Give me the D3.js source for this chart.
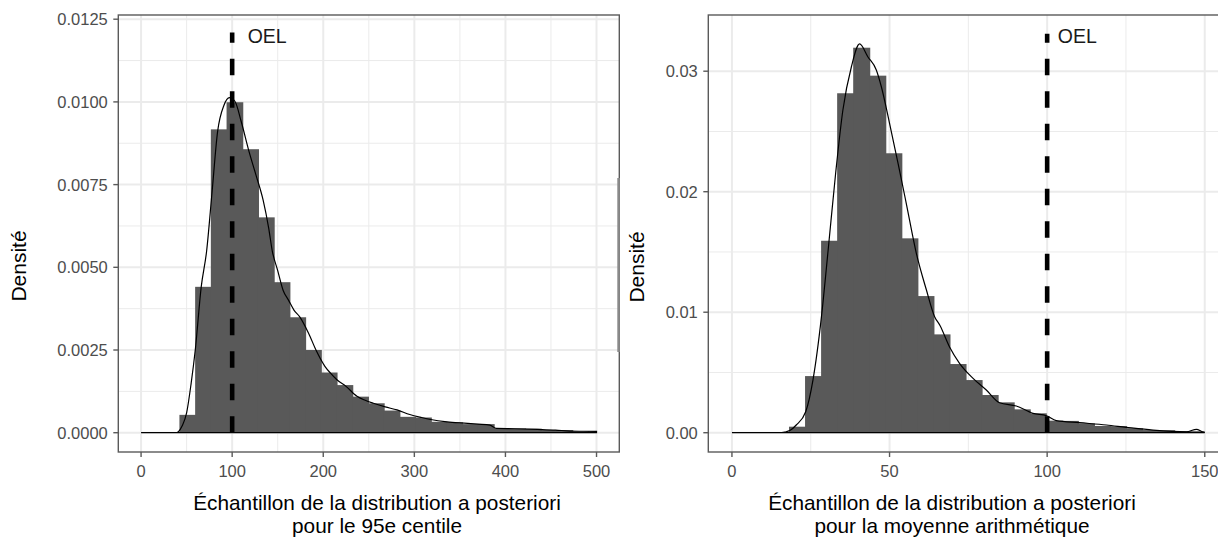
<!DOCTYPE html>
<html>
<head>
<meta charset="utf-8">
<script src="https://cdn.jsdelivr.net/npm/d3@7"></script>
<style>
    body { margin: 0; background: #fff; }
    svg { display: block; font-family: 'Liberation Sans', Arial, sans-serif; }
</style>
</head>
<body>
<svg id="chart" width="1218" height="537"></svg>
<script>
// histogram breaks + bar densities
var p95BinStart = 42.1;
var p95BinWidth = 17.25;
var p95Bars = [0.00054, 0.00441, 0.00917, 0.00999, 0.00857, 0.00651, 0.00455, 0.00349, 0.0025,
    0.00182, 0.00144, 0.00109, 0.00089, 0.00067, 0.00048, 0.00046, 0.00033, 0.00032, 0.00026,
    0.00026, 0.00013, 0.00013, 0.00012, 0.00008, 0.00008, 0.00004, 0.00004];

var meanBinStart = 18.1;
var meanBinWidth = 5.092;
var meanBars = [0.0005, 0.0047, 0.01593, 0.02817, 0.03195, 0.02963, 0.02319, 0.01613, 0.01134,
    0.00816, 0.0057, 0.00437, 0.00313, 0.00252, 0.00194, 0.00161, 0.0010, 0.00098, 0.00078,
    0.00056, 0.00055, 0.00037, 0.00022, 0.00021, 0.00014, 0.00013];

// density curves [x, y]
var p95Density = [[0, 0], [38, 0], [41, 0.00003], [45, 0.0002], [50, 0.0006], [55, 0.0015],
    [59.5, 0.0025], [66, 0.0044], [72, 0.0055], [78, 0.0073], [84, 0.0091], [91, 0.0099],
    [97, 0.01013], [103, 0.01002], [110, 0.0094], [118, 0.00855], [126, 0.0078], [134, 0.00703],
    [140, 0.0062], [144, 0.0055], [150, 0.0049], [156, 0.0043], [162, 0.004], [168, 0.0037],
    [174, 0.00351], [184, 0.003], [192, 0.0025], [202, 0.002], [208, 0.0018], [215, 0.0016],
    [225, 0.0014], [237, 0.0011], [246, 0.00098], [255, 0.00089], [268, 0.00078], [281, 0.00069],
    [295, 0.00055], [308, 0.00046], [318, 0.0004], [336, 0.00033], [355, 0.00029], [370, 0.00026],
    [383, 0.00023], [390, 0.00013], [410, 0.00012], [435, 0.0001], [455, 0.00008], [471, 0.00005],
    [500, 0.00004], [500, 0]];

var meanDensity = [[0, 0], [15, 0], [16.7, 0.00005], [18.5, 0.0002], [20.4, 0.00064], [23.4, 0.00174],
    [25.7, 0.00437], [28.4, 0.00963], [30.5, 0.0151], [32.9, 0.02153], [35.2, 0.02678], [37.9, 0.03037],
    [40.5, 0.03226], [43.1, 0.0312], [45.8, 0.0301], [47.4, 0.02871], [50, 0.02568], [52.7, 0.02236],
    [55.3, 0.01904], [58.5, 0.01489], [61.7, 0.01184], [64.3, 0.00963], [66, 0.0089], [69, 0.00714],
    [72.2, 0.00576], [76.5, 0.00451], [80.7, 0.00354], [84.9, 0.00249], [90.2, 0.00222], [95.5, 0.00161],
    [99.8, 0.00141], [102.9, 0.001], [110.3, 0.00083], [118.8, 0.00064], [125.1, 0.00045],
    [133.6, 0.00022], [144.2, 0.00008], [147.4, 0.00028], [149, 0.0001], [150, 0]];

var p95XTicks = [0, 100, 200, 300, 400, 500];
var p95XMinor = [50, 150, 250, 350, 450];
var p95YTicks = [0, 0.0025, 0.005, 0.0075, 0.01, 0.0125];
var p95YMinor = [0.00125, 0.00375, 0.00625, 0.00875, 0.01125];

var meanXTicks = [0, 50, 100, 150];
var meanXMinor = [25, 75, 125];
var meanYTicks = [0, 0.01, 0.02, 0.03];
var meanYMinor = [0.005, 0.015, 0.025];

var oel = 100;
var yLabel = 'Densité';
var xLabelLine1 = 'Échantillon de la distribution a posteriori';
var p95XLabelLine2 = 'pour le 95e centile';
var meanXLabelLine2 = 'pour la moyenne arithmétique';

var svg = d3.select('#chart');

function drawPanel(cfg) {
    var x = d3.scaleLinear().domain(cfg.xDomain).range([cfg.left, cfg.right]),
        y = d3.scaleLinear().domain(cfg.yDomain).range([cfg.bottom, cfg.top]);

    var clipId = 'clip-' + cfg.id;
    svg.append('clipPath').attr('id', clipId)
        .append('rect')
        .attr('x', cfg.left).attr('y', cfg.top)
        .attr('width', cfg.right - cfg.left).attr('height', cfg.bottom - cfg.top);

    var g = svg.append('g').attr('clip-path', 'url(#' + clipId + ')');

    // grid
    g.selectAll('.xminor').data(cfg.xMinor).enter().append('line')
        .attr('x1', function(d) { return x(d); }).attr('x2', function(d) { return x(d); })
        .attr('y1', cfg.top).attr('y2', cfg.bottom)
        .attr('stroke', '#ebebeb').attr('stroke-width', 1);
    g.selectAll('.yminor').data(cfg.yMinor).enter().append('line')
        .attr('y1', function(d) { return y(d); }).attr('y2', function(d) { return y(d); })
        .attr('x1', cfg.left).attr('x2', cfg.right)
        .attr('stroke', '#ebebeb').attr('stroke-width', 1);
    g.selectAll('.xmajor').data(cfg.xTicks).enter().append('line')
        .attr('x1', function(d) { return x(d); }).attr('x2', function(d) { return x(d); })
        .attr('y1', cfg.top).attr('y2', cfg.bottom)
        .attr('stroke', '#ebebeb').attr('stroke-width', 2);
    g.selectAll('.ymajor').data(cfg.yTicks).enter().append('line')
        .attr('y1', function(d) { return y(d); }).attr('y2', function(d) { return y(d); })
        .attr('x1', cfg.left).attr('x2', cfg.right)
        .attr('stroke', '#ebebeb').attr('stroke-width', 2);

    // histogram (slight overlap so no seams show between bins)
    g.selectAll('.bar').data(cfg.bars).enter().append('rect')
        .attr('x', function(d, i) { return x(cfg.binStart + i * cfg.binWidth); })
        .attr('width', function(d, i) {
            var x0 = cfg.binStart + i * cfg.binWidth,
                x1 = Math.min(cfg.xMax, x0 + cfg.binWidth);
            return x(x1) - x(x0) + (i < cfg.bars.length - 1 ? 1 : 0);
        })
        .attr('y', function(d) { return y(d); })
        .attr('height', function(d) { return y(0) - y(d); })
        .attr('fill', '#595959');

    // density outline (closed along the baseline, like the old geom_density)
    var line = d3.line()
        .x(function(d) { return x(d[0]); })
        .y(function(d) { return y(d[1]); })
        .curve(d3.curveMonotoneX);
    g.append('path')
        .attr('d', line(cfg.density) + 'Z')
        .attr('fill', 'none')
        .attr('stroke', '#000')
        .attr('stroke-width', 1.2);

    // OEL
    g.append('line')
        .attr('x1', x(oel)).attr('x2', x(oel))
        .attr('y1', y(0)).attr('y2', y(cfg.oelTop))
        .attr('stroke', '#000')
        .attr('stroke-width', 4.6)
        .attr('stroke-dasharray', '16.5,16');
    g.append('text')
        .attr('x', x(cfg.oelTextX)).attr('y', y(cfg.oelTextY))
        .attr('font-size', 19.5)
        .attr('fill', '#1a1a1a')
        .text('OEL');

    // border
    svg.append('rect')
        .attr('x', cfg.left).attr('y', cfg.top)
        .attr('width', cfg.right - cfg.left).attr('height', cfg.bottom - cfg.top)
        .attr('fill', 'none').attr('stroke', '#5a5a5a').attr('stroke-width', 1.4);

    // ticks + labels
    var ax = svg.append('g');
    ax.selectAll('.xt').data(cfg.xTicks).enter().append('line')
        .attr('x1', function(d) { return x(d); }).attr('x2', function(d) { return x(d); })
        .attr('y1', cfg.bottom).attr('y2', cfg.bottom + 5)
        .attr('stroke', '#5a5a5a').attr('stroke-width', 1.4);
    ax.selectAll('.xl').data(cfg.xTicks).enter().append('text')
        .attr('x', function(d) { return x(d); })
        .attr('y', cfg.bottom + 24.8)
        .attr('text-anchor', 'middle')
        .attr('font-size', 16.5)
        .attr('fill', '#4d4d4d')
        .text(function(d) { return d; });
    ax.selectAll('.yt').data(cfg.yTicks).enter().append('line')
        .attr('y1', function(d) { return y(d); }).attr('y2', function(d) { return y(d); })
        .attr('x1', cfg.left - 5).attr('x2', cfg.left)
        .attr('stroke', '#5a5a5a').attr('stroke-width', 1.4);
    ax.selectAll('.yl').data(cfg.yTicks).enter().append('text')
        .attr('x', cfg.left - 10.5)
        .attr('y', function(d) { return y(d) + 5.9; })
        .attr('text-anchor', 'end')
        .attr('font-size', 16.5)
        .attr('fill', '#4d4d4d')
        .text(function(d) { return d3.format(cfg.yFormat)(d); });

    // titles
    svg.append('text')
        .attr('transform', 'translate(' + cfg.yTitleX + ',' + cfg.yTitleY + ') rotate(-90)')
        .attr('text-anchor', 'middle')
        .attr('font-size', 21)
        .attr('fill', '#000')
        .text(yLabel);
    svg.append('text')
        .attr('x', cfg.xTitleX).attr('y', 509.5)
        .attr('text-anchor', 'middle')
        .attr('font-size', 20.8)
        .attr('fill', '#000')
        .text(xLabelLine1);
    svg.append('text')
        .attr('x', cfg.xTitleX).attr('y', 532.5)
        .attr('text-anchor', 'middle')
        .attr('font-size', 20.8)
        .attr('fill', '#000')
        .text(cfg.xLabel2);
}

drawPanel({
    id: 'p95', left: 118.3, right: 619.3, top: 15, bottom: 452,
    xDomain: [-25, 525], yDomain: [-0.000583, 0.012627], xMax: 500,
    xTicks: p95XTicks, xMinor: p95XMinor, yTicks: p95YTicks, yMinor: p95YMinor,
    bars: p95Bars, binStart: p95BinStart, binWidth: p95BinWidth, density: p95Density,
    oelTop: 0.0121, oelTextX: 117, oelTextY: 0.01177, yFormat: '.4f',
    yTitleX: 26, yTitleY: 266, xTitleX: 377, xLabel2: p95XLabelLine2
});

drawPanel({
    id: 'mean', left: 708.3, right: 1228.4, top: 15, bottom: 452,
    xDomain: [-7.5, 157.5], yDomain: [-0.0016, 0.034664], xMax: 150,
    xTicks: meanXTicks, xMinor: meanXMinor, yTicks: meanYTicks, yMinor: meanYMinor,
    bars: meanBars, binStart: meanBinStart, binWidth: meanBinWidth, density: meanDensity,
    oelTop: 0.0331, oelTextX: 103.4, oelTextY: 0.03232, yFormat: '.2f',
    yTitleX: 644, yTitleY: 267, xTitleX: 952, xLabel2: meanXLabelLine2
});

// stray lighter stroke on the left panel's right border
svg.append('line')
    .attr('x1', 618.6).attr('x2', 618.6)
    .attr('y1', 178).attr('y2', 352)
    .attr('stroke', '#8a8a8a').attr('stroke-width', 2.6);
</script>
</body>
</html>
